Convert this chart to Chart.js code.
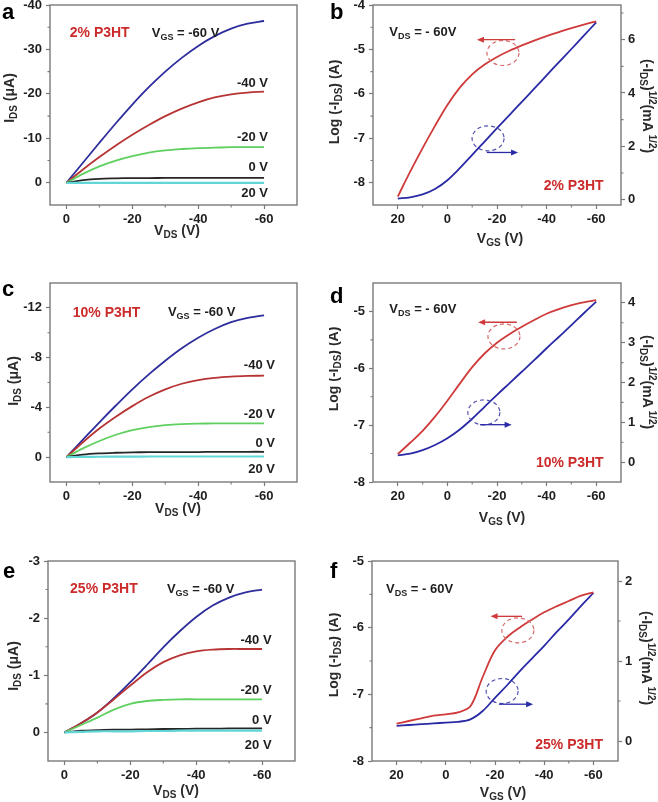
<!DOCTYPE html>
<html><head><meta charset="utf-8">
<script src="https://cdn.jsdelivr.net/npm/chart.js@4.4.0/dist/chart.umd.min.js"></script>
<style>
html,body{margin:0;padding:0;background:#fff;}
#wrap{position:relative;width:658px;height:802px;overflow:hidden;background:#fff;}
canvas{position:absolute;}
</style></head><body><div id="wrap">
<canvas id="pa" width="329" height="268" style="left:0;top:0"></canvas>
<canvas id="pb" width="329" height="268" style="left:329px;top:0"></canvas>
<canvas id="pc" width="329" height="268" style="left:0;top:268px"></canvas>
<canvas id="pd" width="329" height="268" style="left:329px;top:268px"></canvas>
<canvas id="pe" width="329" height="266" style="left:0;top:536px"></canvas>
<canvas id="pf" width="329" height="266" style="left:329px;top:536px"></canvas>
</div>
<script>
// ================= DATA =================
const vdsSweep = [0,-5,-10,-15,-20,-25,-30,-35,-40,-45,-50,-55,-60];          // V_DS (V)
const vgsSweep = [20,15,10,5,0,-5,-10,-15,-20,-25,-30,-35,-40,-45,-50,-55,-60]; // V_GS (V)
const gateLabels = ['-60 V','-40 V','-20 V','0 V','20 V'];
const blendLabels = ['2% P3HT','10% P3HT','25% P3HT'];

// output curves, I_DS (uA)
const outA_gm60 = [0,-4.5,-9.0,-13.4,-17.6,-21.5,-25.0,-28.1,-30.8,-33.0,-34.7,-35.8,-36.4];
const outA_gm40 = [0,-3.0,-5.8,-8.4,-10.8,-13.0,-15.0,-16.7,-18.1,-19.2,-19.9,-20.3,-20.5];
const outA_gm20 = [0,-2.0,-3.7,-5.0,-6.0,-6.8,-7.3,-7.6,-7.8,-7.9,-8.0,-8.0,-8.0];
const outA_g0   = [0,-0.6,-0.9,-1.0,-1.05,-1.05,-1.1,-1.1,-1.1,-1.1,-1.1,-1.1,-1.1];
const outA_gp20 = [0,0,0,0,0,0,0,0,0,0,0,0,0];

const outC_gm60 = [0,-1.4,-2.8,-4.15,-5.45,-6.65,-7.75,-8.75,-9.6,-10.3,-10.85,-11.2,-11.4];
const outC_gm40 = [0,-1.2,-2.3,-3.25,-4.1,-4.85,-5.45,-5.9,-6.2,-6.38,-6.48,-6.53,-6.55];
const outC_gm20 = [0,-0.7,-1.3,-1.8,-2.17,-2.42,-2.57,-2.65,-2.69,-2.71,-2.72,-2.72,-2.72];
const outC_g0   = [0,-0.2,-0.3,-0.35,-0.38,-0.4,-0.4,-0.4,-0.41,-0.42,-0.42,-0.43,-0.43];
const outC_gp20 = [0,-0.02,-0.03,-0.04,-0.04,-0.05,-0.05,-0.05,-0.05,-0.05,-0.05,-0.05,-0.05];

const outE_gm60 = [0,-0.16,-0.35,-0.60,-0.88,-1.18,-1.49,-1.77,-2.02,-2.22,-2.36,-2.45,-2.50];
const outE_gm40 = [0,-0.16,-0.35,-0.58,-0.82,-1.05,-1.23,-1.35,-1.42,-1.45,-1.46,-1.46,-1.46];
const outE_gm20 = [0,-0.13,-0.26,-0.40,-0.50,-0.55,-0.57,-0.58,-0.58,-0.58,-0.58,-0.58,-0.58];
const outE_g0   = [0,-0.03,-0.04,-0.05,-0.05,-0.055,-0.06,-0.06,-0.065,-0.065,-0.07,-0.07,-0.07];
const outE_gp20 = [0,-0.01,-0.02,-0.02,-0.02,-0.025,-0.025,-0.03,-0.03,-0.03,-0.03,-0.03,-0.03];

// transfer curves: log10(-I_DS) (A) and (-I_DS)^1/2 (mA^1/2)
const transB_log  = [-8.31,-7.75,-7.22,-6.72,-6.25,-5.86,-5.56,-5.34,-5.17,-5.03,-4.91,-4.8,-4.7,-4.61,-4.52,-4.44,-4.37];
const transB_sqrt = [0.04,0.09,0.2,0.4,0.73,1.18,1.68,2.18,2.68,3.17,3.67,4.16,4.66,5.16,5.65,6.15,6.65];
const transD_log  = [-7.51,-7.31,-7.10,-6.85,-6.57,-6.27,-5.98,-5.74,-5.55,-5.40,-5.27,-5.15,-5.04,-4.96,-4.89,-4.84,-4.80];
const transD_sqrt = [0.17,0.21,0.3,0.43,0.6,0.82,1.09,1.39,1.69,1.98,2.27,2.56,2.86,3.15,3.44,3.74,4.03];
const transF_log  = [-7.44,-7.4,-7.36,-7.32,-7.3,-7.27,-7.18,-6.74,-6.34,-6.14,-6.0,-5.88,-5.77,-5.68,-5.6,-5.52,-5.47];
const transF_sqrt = [0.19,0.2,0.21,0.22,0.23,0.24,0.27,0.375,0.54,0.70,0.87,1.03,1.19,1.36,1.52,1.69,1.85];

// tick labels
const ticksVds = [0,-20,-40,-60];
const ticksVgs = [20,0,-20,-40,-60];
const ticksA_I = [-40,-30,-20,-10,0];
const ticksC_I = [-12,-8,-4,0];
const ticksE_I = [-3,-2,-1,0];
const ticksB_log = [-8,-7,-6,-5,-4];
const ticksB_sqrt = [0,2,4,6];
const ticksD_log = [-8,-7,-6,-5];
const ticksD_sqrt = [0,1,2,3,4];
const ticksF_log = [-8,-7,-6,-5];
const ticksF_sqrt = [0,1,2];

// ================= STYLE =================
const FONT = "'Liberation Sans', Arial, Helvetica, sans-serif";
const AXIS = '#7a7a7a';
const TXT = '#1e1e1e';
const RED_TXT = '#cc2b2b';
const C_BLUE = '#2d2d9c', C_RED = '#b73434', C_GREEN = '#5fd05f', C_BLACK = '#262626', C_CYAN = '#62d6d6';
const T_RED = '#cf3a3a', T_BLUE = '#2a2aa6';

// ================= HELPERS =================
function fontOf(size, s) { return 'bold ' + (s ? Math.round(size*0.68) : size) + 'px ' + FONT; }
function drawRich(ctx, parts, x, y, o) {
  const size = o.size || 13;
  ctx.save();
  ctx.translate(x, y);
  if (o.rot) ctx.rotate(o.rot);
  let w = 0;
  for (const p of parts) { ctx.font = fontOf(size, p.s); w += ctx.measureText(p.t).width; }
  let cx = o.align === 'center' ? -w/2 : (o.align === 'right' ? -w : 0);
  ctx.fillStyle = o.color || TXT;
  ctx.textBaseline = 'alphabetic';
  ctx.textAlign = 'left';
  const base = size * 0.36;
  for (const p of parts) {
    ctx.font = fontOf(size, p.s);
    let dy = base;
    if (p.s === 'sub') dy += size * 0.24;
    if (p.s === 'sup') dy -= size * 0.42;
    ctx.fillText(p.t, cx, dy);
    cx += ctx.measureText(p.t).width;
  }
  ctx.restore();
}
function arrow(ctx, x1, y, x2, color) {
  const dir = x2 > x1 ? 1 : -1;
  ctx.save();
  ctx.strokeStyle = color; ctx.fillStyle = color; ctx.lineWidth = 1.3;
  ctx.beginPath(); ctx.moveTo(x1, y); ctx.lineTo(x2 - dir*5, y); ctx.stroke();
  ctx.beginPath(); ctx.moveTo(x2, y); ctx.lineTo(x2 - dir*7, y - 3); ctx.lineTo(x2 - dir*7, y + 3); ctx.closePath(); ctx.fill();
  ctx.restore();
}

function decoPlugin(P) {
  return {
    id: 'deco',
    afterDraw(chart) {
      const ctx = chart.ctx, a = chart.chartArea, sc = chart.scales;
      ctx.save();
      ctx.strokeStyle = AXIS; ctx.lineWidth = 1.1;
      ctx.beginPath();
      (P.x.minor||[]).forEach(v => { const px = sc.x.getPixelForValue(v); ctx.moveTo(px, a.bottom); ctx.lineTo(px, a.bottom + 2.5); });
      (P.y.minor||[]).forEach(v => { const py = sc.y.getPixelForValue(v); ctx.moveTo(a.left, py); ctx.lineTo(a.left - 2.5, py); });
      if (P.y2) (P.y2.minor||[]).forEach(v => { const py = sc.y2.getPixelForValue(v); ctx.moveTo(a.right, py); ctx.lineTo(a.right + 2.5, py); });
      ctx.stroke();
      ctx.lineWidth = 1.4;
      ctx.strokeRect(a.left, a.top, a.right - a.left, a.bottom - a.top);
      ctx.restore();
      (P.marks||[]).forEach(m => {
        const ys = sc[m.axis];
        const cx = sc.x.getPixelForValue(m.cx), cy = ys.getPixelForValue(m.cy);
        ctx.save();
        ctx.strokeStyle = m.ell; ctx.lineWidth = 1.2; ctx.setLineDash([4,3]);
        ctx.beginPath(); ctx.ellipse(cx, cy, 16, 12.5, 0, 0, Math.PI*2); ctx.stroke();
        ctx.restore();
        arrow(ctx, sc.x.getPixelForValue(m.ax1), ys.getPixelForValue(m.ay), sc.x.getPixelForValue(m.ax2), m.col);
      });
      (P.labels||[]).forEach(L => {
        const px = sc.x.getPixelForValue(L.x), py = sc[L.axis||'y'].getPixelForValue(L.y);
        drawRich(ctx, L.parts, px, py, {size: L.size||13, align: L.align||'left', color: L.color||TXT});
      });
      P.titles.forEach(T => drawRich(ctx, T.parts, T.x, T.y, {size: 14, align: 'center', rot: T.rot||0, color: '#2a2a2a'}));
      ctx.save();
      ctx.font = 'bold 22px ' + FONT; ctx.fillStyle = '#000'; ctx.textBaseline = 'alphabetic';
      ctx.fillText(P.letter, P.lx, P.ly);
      ctx.restore();
    }
  };
}

function axisCfg(A, position) {
  return {
    type: 'linear', position, min: A.min, max: A.max, reverse: !!A.reverse,
    border: {display: false},
    grid: {drawOnChartArea: false, drawTicks: true, tickLength: 4, tickColor: AXIS, tickWidth: 1.2},
    ticks: {autoSkip: false, maxRotation: 0, padding: position === 'left' ? 4 : 3, color: TXT,
            font: {family: FONT, size: 13, weight: 'bold'}, callback: v => String(v)},
    afterBuildTicks: s => { s.ticks = A.ticks.map(v => ({value: v})); },
    afterFit: s => {
      if (position === 'bottom') { s.height = A.size; s.paddingLeft = 0; s.paddingRight = 0; }
      else { s.width = A.size; s.paddingTop = 0; s.paddingBottom = 0; }
    }
  };
}

function build(P) {
  const scales = {x: axisCfg(P.x, 'bottom'), y: axisCfg(P.y, 'left')};
  if (P.y2) scales.y2 = axisCfg(P.y2, 'right');
  return new Chart(document.getElementById(P.id), {
    type: 'line',
    data: {datasets: P.series.map(s => ({
      data: s.xs.map((x, i) => ({x, y: s.ys[i]})),
      yAxisID: s.axis || 'y', borderColor: s.color, borderWidth: s.w || 1.8,
      pointRadius: 0, fill: false, tension: 0.35
    }))},
    options: {
      responsive: false, animation: false, devicePixelRatio: 1,
      layout: {padding: P.pad},
      plugins: {legend: {display: false}, tooltip: {enabled: false}},
      scales
    },
    plugins: [decoPlugin(P)]
  });
}

const sub = t => ({t, s: 'sub'}), sup = t => ({t, s: 'sup'}), tx = t => ({t});
const tI   = [tx('I'), sub('DS'), tx(' (\u03bcA)')];
const tVds = [tx('V'), sub('DS'), tx(' (V)')];
const tVgs = [tx('V'), sub('GS'), tx(' (V)')];
const tLog = [tx('Log (-I'), sub('DS'), tx(') (A)')];
const tSq  = [tx('(-I'), sub('DS'), tx(')'), sup('1/2'), tx('(mA'), sup(' 1/2'), tx(')')];
const vgsLbl = [tx('V'), sub('GS'), tx(' = ' + gateLabels[0])];
const vdsLbl = [tx('V'), sub('DS'), tx(' = - 60V')];

function outSeries(ys) {
  const cols = [C_BLUE, C_RED, C_GREEN, C_BLACK, C_CYAN];
  const order = [4, 3, 2, 1, 0];
  return order.map(i => ({xs: vdsSweep, ys: ys[i], color: cols[i], w: i === 4 ? 2.2 : 1.8}));
}
function outLabels(blend, vgsX, yTop, gx, gys) {
  const L = [
    {parts: [tx(blend)], x: yTop[0], y: yTop[1], size: 14, color: RED_TXT},
    {parts: vgsLbl, x: vgsX, y: yTop[1]}
  ];
  for (let i = 1; i < 5; i++) L.push({parts: [tx(gateLabels[i])], x: gx, y: gys[i-1], align: 'right'});
  return L;
}

build({
  id: 'pa', letter: 'a', lx: 2, ly: 19,
  pad: {left: 0, top: 5, right: 32, bottom: 23},
  x: {min: -70, max: 5, reverse: true, ticks: ticksVds, minor: [-10,-30,-50], size: 40},
  y: {min: -40, max: 5, reverse: true, ticks: ticksA_I, minor: [-35,-25,-15,-5], size: 50},
  series: outSeries([outA_gm60, outA_gm40, outA_gm20, outA_g0, outA_gp20]),
  labels: outLabels(blendLabels[0], -25.9, [-1.0, -33.9], -61.2, [-22.5, -10.4, -3.6, 2.2]),
  titles: [{parts: tI, x: 9, y: 98, rot: -Math.PI/2}, {parts: tVds, x: 177, y: 230}]
});
build({
  id: 'pc', letter: 'c', lx: 2, ly: 28,
  pad: {left: 0, top: 15, right: 32, bottom: 14},
  x: {min: -70, max: 5, reverse: true, ticks: ticksVds, minor: [-10,-30,-50], size: 40},
  y: {min: -14, max: 2, reverse: true, ticks: ticksC_I, minor: [-10,-6,-2], size: 50},
  series: outSeries([outC_gm60, outC_gm40, outC_gm20, outC_g0, outC_gp20]),
  labels: outLabels(blendLabels[1], -30.8, [-1.9, -11.7], -63.3, [-7.5, -3.5, -1.16, 0.93]),
  titles: [{parts: tI, x: 13, y: 113, rot: -Math.PI/2}, {parts: tVds, x: 178, y: 240}]
});
build({
  id: 'pe', letter: 'e', lx: 3, ly: 42,
  pad: {left: 0, top: 25, right: 34, bottom: 1},
  x: {min: -70, max: 5, reverse: true, ticks: ticksVds, minor: [-10,-30,-50], size: 40},
  y: {min: -3, max: 0.5, reverse: true, ticks: ticksE_I, minor: [-2.5,-1.5,-0.5], size: 48},
  series: outSeries([outE_gm60, outE_gm40, outE_gm20, outE_g0, outE_gp20]),
  labels: outLabels(blendLabels[2], -31.1, [-1.7, -2.52], -62.9, [-1.63, -0.75, -0.23, 0.2]),
  titles: [{parts: tI, x: 13, y: 130, rot: -Math.PI/2}, {parts: tVds, x: 176, y: 254}]
});

function transSeries(logv, sqv) {
  return [
    {xs: vgsSweep, ys: logv, color: T_RED, axis: 'y'},
    {xs: vgsSweep, ys: sqv, color: T_BLUE, axis: 'y2'}
  ];
}
build({
  id: 'pb', letter: 'b', lx: 1, ly: 19,
  pad: {left: 0, top: 5, right: 0, bottom: 23},
  x: {min: -70, max: 30, reverse: true, ticks: ticksVgs, minor: [10,-10,-30,-50], size: 40},
  y: {min: -8.5, max: -4, ticks: ticksB_log, minor: [-7.5,-6.5,-5.5,-4.5], size: 44},
  y2: {min: -0.2, max: 7.3, ticks: ticksB_sqrt, minor: [1,3,5,7], size: 37},
  series: transSeries(transB_log, transB_sqrt),
  marks: [
    {axis: 'y', cx: -22.4, cy: -5.08, ell: '#d66a6a', col: T_RED, ay: -4.78, ax1: -27.3, ax2: -11.9},
    {axis: 'y2', cx: -16.4, cy: 2.30, ell: '#5252ad', col: T_BLUE, ay: 1.77, ax1: -15.9, ax2: -28.5}
  ],
  labels: [
    {parts: vdsLbl, x: 23.4, y: -4.6},
    {parts: [tx(blendLabels[0])], x: -63, y: -8.05, align: 'right', size: 14, color: RED_TXT}
  ],
  titles: [{parts: tLog, x: 5, y: 102, rot: -Math.PI/2}, {parts: tSq, x: 319, y: 106, rot: Math.PI/2}, {parts: tVgs, x: 171, y: 238}]
});
build({
  id: 'pd', letter: 'd', lx: 1, ly: 35,
  pad: {left: 0, top: 15, right: 0, bottom: 14},
  x: {min: -70, max: 30, reverse: true, ticks: ticksVgs, minor: [10,-10,-30,-50], size: 40},
  y: {min: -8, max: -4.5, ticks: ticksD_log, minor: [-7.5,-6.5,-5.5], size: 44},
  y2: {min: -0.5, max: 4.5, ticks: ticksD_sqrt, minor: [0.5,1.5,2.5,3.5], size: 37},
  series: transSeries(transD_log, transD_sqrt),
  marks: [
    {axis: 'y', cx: -22.8, cy: -5.44, ell: '#d66a6a', col: T_RED, ay: -5.19, ax1: -28.0, ax2: -12.4},
    {axis: 'y2', cx: -14.7, cy: 1.25, ell: '#5252ad', col: T_BLUE, ay: 0.94, ax1: -13.1, ax2: -25.9}
  ],
  labels: [
    {parts: vdsLbl, x: 23.4, y: -4.94},
    {parts: [tx(blendLabels[1])], x: -63, y: -7.65, align: 'right', size: 14, color: RED_TXT}
  ],
  titles: [{parts: tLog, x: 4, y: 101, rot: -Math.PI/2}, {parts: tSq, x: 319, y: 114, rot: Math.PI/2}, {parts: tVgs, x: 173, y: 249}]
});
build({
  id: 'pf', letter: 'f', lx: 1, ly: 42,
  pad: {left: 0, top: 25, right: 0, bottom: 1},
  x: {min: -70, max: 30, reverse: true, ticks: ticksVgs, minor: [10,-10,-30,-50], size: 40},
  y: {min: -8, max: -5, ticks: ticksF_log, minor: [-7.5,-6.5,-5.5], size: 43},
  y2: {min: -0.25, max: 2.25, ticks: ticksF_sqrt, minor: [0.5,1.5], size: 40},
  series: transSeries(transF_log, transF_sqrt),
  marks: [
    {axis: 'y', cx: -29.3, cy: -6.04, ell: '#d66a6a', col: T_RED, ay: -5.83, ax1: -31.0, ax2: -18.2},
    {axis: 'y2', cx: -22.9, cy: 0.625, ell: '#5252ad', col: T_BLUE, ay: 0.46, ax1: -21.6, ax2: -35.5}
  ],
  labels: [
    {parts: vdsLbl, x: 24.3, y: -5.41},
    {parts: [tx(blendLabels[2])], x: -63.9, y: -7.74, align: 'right', size: 14, color: RED_TXT}
  ],
  titles: [{parts: tLog, x: 4, y: 119, rot: -Math.PI/2}, {parts: tSq, x: 318, y: 122, rot: Math.PI/2}, {parts: tVgs, x: 174, y: 256}]
});
</script>
</body></html>
